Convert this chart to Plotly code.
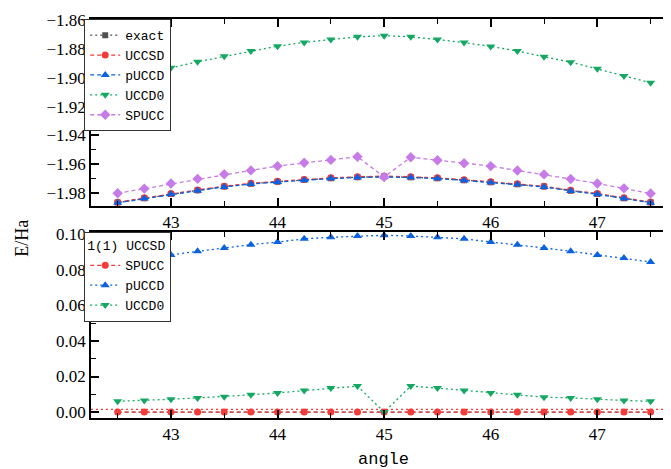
import plotly.graph_objects as go

angle = [42.5, 42.75, 43.0, 43.25, 43.5, 43.75, 44.0, 44.25, 44.5, 44.75, 45.0,
         45.25, 45.5, 45.75, 46.0, 46.25, 46.5, 46.75, 47.0, 47.25, 47.5]

# top panel: energies (Ha)
exact_E = [-1.9868, -1.9838, -1.9808, -1.9783, -1.9757, -1.9737, -1.9723, -1.9710, -1.9699, -1.9692, -1.9687,
           -1.9692, -1.9699, -1.9712, -1.9726, -1.9740, -1.9757, -1.9785, -1.9808, -1.9838, -1.9867]
uccsd_E = [-1.9865, -1.9835, -1.9805, -1.9780, -1.9754, -1.9734, -1.9720, -1.9707, -1.9696, -1.9689, -1.9684,
           -1.9689, -1.9696, -1.9709, -1.9723, -1.9737, -1.9754, -1.9782, -1.9805, -1.9835, -1.9864]
pucc_E = [-1.9870, -1.9840, -1.9810, -1.9785, -1.9759, -1.9739, -1.9725, -1.9712, -1.9701, -1.9694, -1.9689,
          -1.9694, -1.9701, -1.9714, -1.9728, -1.9742, -1.9759, -1.9787, -1.9810, -1.9840, -1.9869]
uccd0_E = [-1.9030, -1.8980, -1.8930, -1.8888, -1.8850, -1.8812, -1.8779, -1.8753, -1.8733, -1.8714, -1.8706,
           -1.8714, -1.8733, -1.8754, -1.8781, -1.8813, -1.8853, -1.8891, -1.8937, -1.8987, -1.9033]
spucc_E = [-1.9803, -1.9771, -1.9735, -1.9703, -1.9671, -1.9644, -1.9614, -1.9591, -1.9571, -1.9549, -1.9690,
           -1.9552, -1.9573, -1.9594, -1.9614, -1.9645, -1.9672, -1.9704, -1.9735, -1.9769, -1.9805]

# bottom panel: errors (Ha)
uccsd_err = [0.0] * 21
spucc_err = [0.0] * 21
pucc_err = [0.0843, 0.0865, 0.0883, 0.0903, 0.0922, 0.0940, 0.0955, 0.0973, 0.0982, 0.0989, 0.0993,
            0.0989, 0.0982, 0.0973, 0.0955, 0.0940, 0.0922, 0.0903, 0.0883, 0.0865, 0.0843]
uccd0_err = [0.0061, 0.0065, 0.0072, 0.0080, 0.0087, 0.0097, 0.0108, 0.0122, 0.0135, 0.0146, 0.0000,
             0.0146, 0.0135, 0.0122, 0.0108, 0.0097, 0.0084, 0.0080, 0.0072, 0.0065, 0.0061]
chem_acc = 0.0016

C_EXACT = "#505050"
C_RED = "#f53a3a"
C_BLUE = "#0b62e0"
C_GREEN = "#14a862"
C_PURPLE = "#c77be8"

SERIF = "Liberation Serif"
MONO = "Liberation Mono"

fig = go.Figure()

def add(x, y, name, color, symbol, dash, xa, ya, legend, show=True, size=7):
    fig.add_trace(go.Scatter(
        x=x, y=y, name=name, mode="lines+markers",
        line=dict(color=color, width=1.3, dash=dash),
        marker=dict(color=color, symbol=symbol, size=size),
        xaxis=xa, yaxis=ya, legend=legend, showlegend=show))

DASH = "4px,3px"
DOT = "2px,3px"

add(angle, exact_E, "exact", C_EXACT, "square", DOT, "x", "y", "legend", size=6)
add(angle, uccsd_E, "UCCSD", C_RED, "circle", DASH, "x", "y", "legend")
add(angle, pucc_E, "pUCCD", C_BLUE, "triangle-up", DASH, "x", "y", "legend", size=8)
add(angle, uccd0_E, "UCCD0", C_GREEN, "triangle-down", DOT, "x", "y", "legend", size=8)
add(angle, spucc_E, "SPUCC", C_PURPLE, "diamond", DASH, "x", "y", "legend", size=8)

add(angle, uccsd_err, "UCCSD", "#6a6a6a", "square", DASH, "x2", "y2", "legend2", show=False, size=5)
add(angle, spucc_err, "SPUCC", C_RED, "circle", DASH, "x2", "y2", "legend2")
add(angle, pucc_err, "pUCCD", C_BLUE, "triangle-up", DOT, "x2", "y2", "legend2", size=8)
add(angle, uccd0_err, "UCCD0", C_GREEN, "triangle-down", DOT, "x2", "y2", "legend2", size=8)

fig.add_shape(type="line", xref="x2 domain", yref="y2", x0=0, x1=1, y0=chem_acc, y1=chem_acc,
              line=dict(color=C_RED, width=1.2, dash="2px,3px"))

H = 469
T, B = 4, 59
ph = H - T - B          # 406
bottom_px = H - B       # 410
bot_dom = [0, 189 / ph]
top_dom = [(189 + 27) / ph, 1]

TICKFONT = dict(family=SERIF, size=17, color="black")

xcommon = dict(range=[42.25, 47.71], tickmode="linear", tick0=43, dtick=1,
               ticks="inside", ticklen=8, tickwidth=1.5, tickcolor="black",
               minor=dict(dtick=0.5, tick0=42.5, ticks="inside", ticklen=5, tickwidth=1.2, tickcolor="black"),
               showline=True, linecolor="black", linewidth=1.5, mirror="ticks",
               showgrid=False, zeroline=False, tickfont=TICKFONT)
ycommon = dict(ticks="inside", ticklen=8, tickwidth=1.5, tickcolor="black",
               showline=True, linecolor="black", linewidth=1.5, mirror="ticks",
               showgrid=False, zeroline=False, tickfont=TICKFONT)

LEGFONT = dict(family=MONO, size=13, color="black")

fig.update_layout(
    width=671, height=H,
    margin=dict(l=83, r=4, t=T, b=B),
    plot_bgcolor="white", paper_bgcolor="white",
    font=dict(family=SERIF, color="black"),
    xaxis=dict(**xcommon, anchor="y", domain=[0, 1]),
    yaxis=dict(**ycommon, domain=top_dom, anchor="x", range=[-1.989, -1.859],
               tickmode="linear", tick0=-1.86, dtick=0.02, tickformat=".2f",
               minor=dict(dtick=0.01, tick0=-1.86, ticks="inside", ticklen=5, tickwidth=1.2, tickcolor="black")),
    xaxis2=dict(**xcommon, anchor="y2", domain=[0, 1]),
    yaxis2=dict(**ycommon, domain=bot_dom, anchor="x2", range=[-0.0033, 0.101],
                tickmode="linear", tick0=0, dtick=0.02, tickformat=".2f",
                minor=dict(dtick=0.01, tick0=0, ticks="inside", ticklen=5, tickwidth=1.2, tickcolor="black")),
    legend=dict(x=-0.012, y=1.0, xanchor="left", yanchor="top", xref="paper", yref="paper",
                bgcolor="white", bordercolor="#333", borderwidth=1.2,
                font=LEGFONT, tracegroupgap=0, itemwidth=30),
    legend2=dict(x=-0.012, y=bot_dom[1], xanchor="left", yanchor="top", xref="paper", yref="paper",
                 bgcolor="white", bordercolor="#333", borderwidth=1.2,
                 font=LEGFONT, tracegroupgap=0, itemwidth=30,
                 title=dict(text="1(1) UCCSD", font=LEGFONT)),
    showlegend=True,
)

fig.add_annotation(text="E/Ha", xref="paper", yref="paper", x=-0.118, xanchor="center",
                   y=0.45, yanchor="middle", textangle=-90,
                   showarrow=False, font=dict(family=SERIF, size=18, color="black"))
fig.add_annotation(text="angle", xref="paper", yref="paper", x=0.502, xanchor="center",
                   y=(bottom_px - 452) / ph, yanchor="middle", borderpad=0,
                   showarrow=False, font=dict(family=MONO, size=17, color="black"))

fig.write_html("out.html")
